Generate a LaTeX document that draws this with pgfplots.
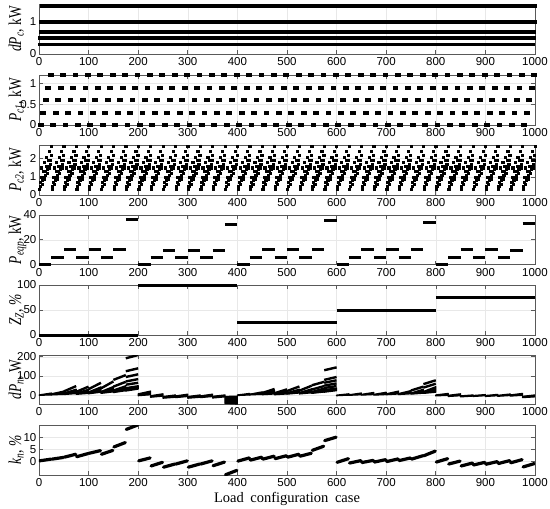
\documentclass[border=0pt]{standalone}
\usepackage{fontspec}
\setmainfont{Liberation Serif}
\setsansfont{Liberation Sans}
\usepackage{graphicx}
\usepackage{pgfplots}
\pgfplotsset{compat=1.18}
\usepackage{pgfplotstable}

\newcommand\yl[1]{\scalebox{0.75}[1]{#1}}

% one period of 25 cases: dP_c cycles fastest, P_c1 every 5 cases
\pgfplotstableread{
m dpc pcone pctwo
1 0.3 0 0.3
2 0.5 0 0.5
3 0.7 0 0.7
4 1.0 0 1.0
5 1.5 0 1.5
6 0.3 0.3 0.6
7 0.5 0.3 0.8
8 0.7 0.3 1.0
9 1.0 0.3 1.3
10 1.5 0.3 1.8
11 0.3 0.6 0.9
12 0.5 0.6 1.1
13 0.7 0.6 1.3
14 1.0 0.6 1.6
15 1.5 0.6 2.1
16 0.3 0.9 1.2
17 0.5 0.9 1.4
18 0.7 0.9 1.6
19 1.0 0.9 1.9
20 1.5 0.9 2.4
21 0.3 1.2 1.5
22 0.5 1.2 1.7
23 0.7 1.2 1.9
24 1.0 1.2 2.2
25 1.5 1.2 2.7
}\period

\pgfplotsset{
  panel/.style={
    scale only axis, width=496pt, height=50pt, anchor=north west,
    xmin=0, xmax=1000, xtick={0,100,...,1000},
    grid=major, grid style={gray!18, line width=0.4pt},
    axis line style={black!65, line width=0.6pt},
    tick style={black!65, line width=0.6pt}, tick align=inside, major tick length=4pt,
    ticklabel style={font=\fontsize{11.5}{12}\sffamily},
    yticklabel style={inner sep=2.5pt},
    /pgf/number format/assume math mode=true,
    /pgf/number format/1000 sep={},
    scaled y ticks=false,
    ylabel style={font=\fontsize{18}{19}\selectfont, at={(axis description cs:-0.036,0.5)}, anchor=base},
  },
  seg/.style={black, line width=3pt, line cap=butt, mark=none, unbounded coords=jump},
  kseg/.style={black, line width=3.2pt, line cap=round, mark=none, unbounded coords=jump},
  blk/.style={black, fill=black, line width=1.2pt, line join=round, mark=none},
  dl/.style={black, line width=2.4pt, mark=none},
  dots/.style={only marks, mark=square*, mark size=#1, black},
}

\begin{document}
\begin{tikzpicture}
\useasboundingbox (-39pt,-505pt) rectangle (511pt,4pt);

% dP_c
\begin{axis}[panel, at={(0pt,0pt)}, ymin=0, ymax=1.56, ytick={0,1},
  ylabel={\yl{\textit{dP}\textsubscript{\textit{c}},\ kW}}]
\pgfplotsinvokeforeach{0,...,39}{
  \addplot[dots=1.3pt] table[x expr=\thisrow{m}+25*#1, y=dpc]{\period};
}
\end{axis}

% P_c1
\begin{axis}[panel, at={(0pt,-71pt)}, ymin=0, ymax=1.2, ytick={0,0.5,1},
  ylabel={\yl{\textit{P}\textsubscript{\textit{c1}},\ kW}}]
\pgfplotsinvokeforeach{0,...,39}{
  \addplot[dots=1.4pt, clip=false] table[x expr=\thisrow{m}+25*#1, y=pcone]{\period};
}
\end{axis}

% P_c2
\begin{axis}[panel, at={(0pt,-141pt)}, ymin=0, ymax=2.75, ytick={0,1,2},
  ylabel={\yl{\textit{P}\textsubscript{\textit{c2}},\ kW}}]
\pgfplotsinvokeforeach{0,...,39}{
  \addplot[dots=1.1pt] table[x expr=\thisrow{m}+25*#1, y=pctwo]{\period};
}
\end{axis}

% P_eqp
\begin{axis}[panel, at={(0pt,-211pt)}, height=49.5pt, ymin=0, ymax=40, ytick={0,20,40}, clip=false,
  ylabel={\yl{\textit{P}\textsubscript{\textit{eqp}},\ kW}}]
\addplot[seg] coordinates {
 (0,0)(25,0) (25,nan) (25,6)(50,6) (50,nan) (50,12)(75,12) (75,nan) (75,6)(100,6) (100,nan)
 (100,12)(125,12) (125,nan) (125,6)(150,6) (150,nan) (150,12)(175,12) (175,nan) (175,36.5)(200,36.5) (200,nan)
 (200,0)(225,0) (225,nan) (225,6)(250,6) (250,nan) (250,11.5)(275,11.5) (275,nan) (275,6)(300,6) (300,nan)
 (300,11.5)(325,11.5) (325,nan) (325,5.5)(350,5.5) (350,nan) (350,11)(375,11) (375,nan) (375,32)(400,32) (400,nan)
 (400,0)(425,0) (425,nan) (425,6)(450,6) (450,nan) (450,12)(475,12) (475,nan) (475,6)(500,6) (500,nan)
 (500,12)(525,12) (525,nan) (525,6)(550,6) (550,nan) (550,12)(575,12) (575,nan) (575,35.5)(600,35.5) (600,nan)
 (600,0)(625,0) (625,nan) (625,6)(650,6) (650,nan) (650,12)(675,12) (675,nan) (675,6)(700,6) (700,nan)
 (700,12)(725,12) (725,nan) (725,6)(750,6) (750,nan) (750,12)(775,12) (775,nan) (775,34)(800,34) (800,nan)
 (800,0)(825,0) (825,nan) (825,6)(850,6) (850,nan) (850,12)(875,12) (875,nan) (875,6)(900,6) (900,nan)
 (900,12)(925,12) (925,nan) (925,5.5)(950,5.5) (950,nan) (950,11.5)(975,11.5) (975,nan) (975,33)(1000,33)
};
\end{axis}

% Z_Z
\begin{axis}[panel, at={(0pt,-281pt)}, ymin=0, ymax=100, ytick={0,50,100}, clip=false,
  ylabel={\yl{\textit{Z}\textsubscript{\textit{Z}},\ \textit{\%}}}]
\addplot[seg] coordinates {
 (0,0)(200,0) (200,nan) (200,100)(400,100) (400,nan) (400,25)(600,25) (600,nan)
 (600,50)(800,50) (800,nan) (800,75)(1000,75)
};
\end{axis}

% dP_n
\begin{axis}[panel, at={(0pt,-351pt)}, height=49pt, ymin=-45, ymax=209, ytick={0,100,200},
  ylabel={\yl{\textit{dP}\textsubscript{\textit{n}},\ W}}]
% group 1
\addplot[blk] coordinates {(0,0)(25,2)(25,12)(0,2)} -- cycle;
\addplot[blk] coordinates {(25,2)(50,5)(50,22)(25,8)} -- cycle;
\addplot[blk] coordinates {(50,4)(75,9)(75,32)(50,12)} -- cycle;
\addplot[dl] coordinates {(50,20)(75,48)};
\addplot[blk] coordinates {(75,5)(100,10)(100,32)(75,12)} -- cycle;
\addplot[dl] coordinates {(75,18)(100,45)};
\addplot[blk] coordinates {(100,8)(125,16)(125,44)(100,18)} -- cycle;
\addplot[dl] coordinates {(100,32)(125,65)};
\addplot[blk] coordinates {(125,10)(150,18)(150,46)(125,20)} -- cycle;
\addplot[dl] coordinates {(125,36)(150,72)};
\addplot[blk] coordinates {(150,14)(175,24)(175,50)(150,28)} -- cycle;
\addplot[dl] coordinates {(150,45)(175,70)};
\addplot[dl] coordinates {(150,80)(175,105)};
\addplot[blk] coordinates {(175,22)(200,32)(200,50)(175,40)} -- cycle;
\addplot[dl] coordinates {(175,55)(200,65)};
\addplot[dl] coordinates {(175,72)(200,84)};
\addplot[dl] coordinates {(175,95)(200,109)};
\addplot[dl] coordinates {(175,125)(200,140)};
\addplot[dl] coordinates {(175,192)(200,209)};
% group 2
\addplot[blk] coordinates {(200,-2)(225,3)(225,22)(200,8)} -- cycle;
\addplot[blk] coordinates {(225,-10)(250,-4)(250,8)(225,-2)} -- cycle;
\addplot[blk] coordinates {(250,-15)(275,-10)(275,2)(250,-6)} -- cycle;
\addplot[blk] coordinates {(275,-12)(300,-6)(300,6)(275,-3)} -- cycle;
\addplot[blk] coordinates {(300,-15)(325,-10)(325,2)(300,-6)} -- cycle;
\addplot[blk] coordinates {(325,-12)(350,-6)(350,6)(325,-3)} -- cycle;
\addplot[blk] coordinates {(350,-14)(375,-8)(375,2)(350,-5)} -- cycle;
\addplot[blk] coordinates {(375,-42)(400,-45)(400,-4)(375,-6)} -- cycle;
% group 3
\addplot[blk] coordinates {(400,-1)(425,2)(425,10)(400,2)} -- cycle;
\addplot[blk] coordinates {(425,2)(450,5)(450,18)(425,6)} -- cycle;
\addplot[blk] coordinates {(450,3)(475,7)(475,25)(450,9)} -- cycle;
\addplot[dl] coordinates {(450,12)(475,33)};
\addplot[blk] coordinates {(475,3)(500,7)(500,24)(475,9)} -- cycle;
\addplot[dl] coordinates {(475,11)(500,31)};
\addplot[blk] coordinates {(500,6)(525,12)(525,32)(500,14)} -- cycle;
\addplot[dl] coordinates {(500,22)(525,46)};
\addplot[blk] coordinates {(525,7)(550,13)(550,34)(525,15)} -- cycle;
\addplot[dl] coordinates {(525,24)(550,50)};
\addplot[blk] coordinates {(550,10)(575,17)(575,38)(550,20)} -- cycle;
\addplot[dl] coordinates {(550,30)(575,48)};
\addplot[dl] coordinates {(550,52)(575,70)};
\addplot[blk] coordinates {(575,16)(600,24)(600,38)(575,30)} -- cycle;
\addplot[dl] coordinates {(575,38)(600,48)};
\addplot[dl] coordinates {(575,50)(600,62)};
\addplot[dl] coordinates {(575,65)(600,78)};
\addplot[dl] coordinates {(575,80)(600,95)};
\addplot[dl] coordinates {(575,130)(600,145)};
% group 4
\addplot[blk] coordinates {(600,-2)(625,1)(625,8)(600,1)} -- cycle;
\addplot[blk] coordinates {(625,0)(650,3)(650,12)(625,3)} -- cycle;
\addplot[blk] coordinates {(650,1)(675,4)(675,15)(650,5)} -- cycle;
\addplot[blk] coordinates {(675,1)(700,4)(700,16)(675,5)} -- cycle;
\addplot[blk] coordinates {(700,3)(725,7)(725,22)(700,8)} -- cycle;
\addplot[blk] coordinates {(725,4)(750,8)(750,25)(725,9)} -- cycle;
\addplot[blk] coordinates {(750,6)(775,11)(775,32)(750,12)} -- cycle;
\addplot[dl] coordinates {(750,25)(775,45)};
\addplot[blk] coordinates {(775,10)(800,16)(800,45)(775,20)} -- cycle;
\addplot[dl] coordinates {(775,40)(800,60)};
\addplot[dl] coordinates {(775,58)(800,78)};
% group 5
\addplot[blk] coordinates {(800,-3)(825,0)(825,10)(800,2)} -- cycle;
\addplot[blk] coordinates {(825,-6)(850,-2)(850,8)(825,0)} -- cycle;
\addplot[blk] coordinates {(850,-8)(875,-4)(875,2)(850,-3)} -- cycle;
\addplot[blk] coordinates {(875,-6)(900,-2)(900,4)(875,-1)} -- cycle;
\addplot[blk] coordinates {(900,-6)(925,-2)(925,5)(900,-1)} -- cycle;
\addplot[blk] coordinates {(925,-5)(950,-1)(950,7)(925,0)} -- cycle;
\addplot[blk] coordinates {(950,-4)(975,0)(975,10)(950,2)} -- cycle;
\addplot[blk] coordinates {(975,-12)(1000,-8)(1000,2)(975,-5)} -- cycle;
\end{axis}

% k_n
\begin{axis}[panel, at={(0pt,-421pt)}, ymin=-5.5, ymax=15, ytick={0,5,10},
  ylabel={\yl{\textit{k}\textsubscript{\textit{n}},\ \textit{\%}}},
  xlabel={Load\hspace{0.45em}configuration\hspace{0.45em}case},
  xlabel style={font=\fontsize{14.5}{15}\selectfont, at={(axis description cs:0.5,0)}, anchor=base, yshift=-27.7pt}]
\addplot[kseg] coordinates {
 (1,0.3)(24,1.0) (25,nan) (26,1.0)(49,1.7) (50,nan) (51,1.8)(74,3.0) (75,nan)
 (76,2.0)(99,3.3) (100,nan) (101,3.4)(124,4.5) (125,nan) (126,3.0)(149,4.6) (150,nan)
 (151,6.0)(174,7.8) (175,nan) (176,13.2)(199,15) (200,nan)
 (201,0.3)(224,1.5) (225,nan) (226,-1.8)(249,-0.3) (250,nan) (251,-2.3)(274,-1.0) (275,nan)
 (276,-1.0)(299,0.3) (300,nan) (301,-2.3)(324,-1.0) (325,nan) (326,-1.0)(349,0.3) (350,nan)
 (351,-1.7)(374,-0.2) (375,nan) (376,-5.4)(399,-3.6) (400,nan)
 (401,0.2)(424,1.5) (425,nan) (426,0.6)(449,1.8) (450,nan) (451,1.0)(474,2.2) (475,nan)
 (476,1.2)(499,2.4) (500,nan) (501,1.8)(524,3.0) (525,nan) (526,2.2)(549,3.4) (550,nan)
 (551,4.6)(574,6.3) (575,nan) (576,8.6)(599,10) (600,nan)
 (601,-0.3)(624,1.2) (625,nan) (626,-0.6)(649,0.4) (650,nan) (651,-0.4)(674,0.5) (675,nan)
 (676,-0.2)(699,0.8) (700,nan) (701,0)(724,1.1) (725,nan) (726,0.4)(749,1.5) (750,nan)
 (751,1.0)(774,2.4) (775,nan) (776,2.4)(799,4.3) (800,nan)
 (801,-0.2)(824,1.2) (825,nan) (826,-1.0)(849,0.2) (850,nan) (851,-1.8)(874,-0.6) (875,nan)
 (876,-1.4)(899,-0.3) (900,nan) (901,-1.1)(924,0) (925,nan) (926,-0.8)(949,0.4) (950,nan)
 (951,-0.5)(974,0.8) (975,nan) (976,-2.2)(999,-0.8)
};
\end{axis}
\end{tikzpicture}
\end{document}
